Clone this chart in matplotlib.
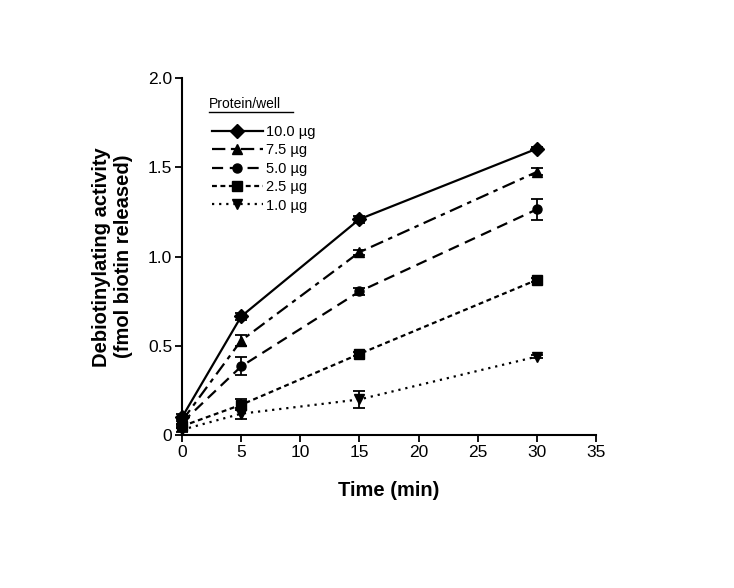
import matplotlib
matplotlib.use("Agg")
import matplotlib.pyplot as plt
from matplotlib.lines import Line2D

plt.rcParams['font.family'] = ['Liberation Sans', 'DejaVu Sans']

time = [0, 5, 15, 30]
labels = ['10.0 µg', '7.5 µg', '5.0 µg', '2.5 µg', '1.0 µg']
v10 = [0.10, 0.665, 1.21, 1.605]
v75 = [0.08, 0.53, 1.025, 1.475]
v50 = [0.07, 0.385, 0.805, 1.265]
v25 = [0.05, 0.17, 0.455, 0.87]
v10b = [0.03, 0.12, 0.20, 0.44]
e10 = [0.02, 0.02, 0.02, 0.01]
e75 = [0.02, 0.03, 0.015, 0.02]
e50 = [0.02, 0.05, 0.02, 0.06]
e25 = [0.01, 0.03, 0.01, 0.01]
e10b = [0.01, 0.03, 0.05, 0.01]

series = [v10, v75, v50, v25, v10b]
errors = [e10, e75, e50, e25, e10b]
markers = ['D', '^', 'o', 's', 'v']
msizes = [7, 7, 6.5, 7, 7.5]
styles = ['-', (0, (6, 2.5, 2, 2.5)), (0, (5, 3)), (0, (2.2, 1.6)), (0, (1, 2.2))]

fig = plt.figure(figsize=(7.34, 5.88), dpi=100)
ax = fig.add_axes([0.248, 0.260, 0.564, 0.607])

handles = []
for y, e, m, ms, ls, lab in zip(series, errors, markers, msizes, styles, labels):
    ax.errorbar(time, y, yerr=e, color='black', marker=m, markersize=ms,
                linestyle=ls, linewidth=1.6, capsize=4, elinewidth=1.3,
                capthick=1.3, clip_on=False, zorder=3)
    handles.append(Line2D([], [], color='black', marker=m, markersize=ms,
                          linestyle=ls, linewidth=1.6))

ax.set_xlim(0, 35)
ax.set_ylim(0, 2.0)
ax.set_xticks(range(0, 36, 5))
ax.set_yticks([0, 0.5, 1.0, 1.5, 2.0])
ax.set_yticklabels(['0', '0.5', '1.0', '1.5', '2.0'])
for s in ['top', 'right']:
    ax.spines[s].set_visible(False)
for s in ['left', 'bottom']:
    ax.spines[s].set_linewidth(1.5)
ax.tick_params(direction='out', length=5, width=1.3, labelsize=12.5, pad=2)

ax.set_xlabel('Time (min)', fontsize=14.5, fontweight='bold', labelpad=15)
ax.set_ylabel('Debiotinylating activity\n(fmol biotin released)', fontsize=14.5,
              fontweight='bold', labelpad=11)

leg = ax.legend(handles, labels, loc='upper left', bbox_to_anchor=(0.058, 0.885),
                frameon=False, fontsize=10.5, handlelength=3.5, handletextpad=0.2,
                labelspacing=0.3, borderaxespad=0)
ax.text(0.065, 0.928, 'Protein/well', transform=ax.transAxes, fontsize=10,
        ha='left', va='center')
ax.plot([0.065, 0.268], [0.905, 0.905], transform=ax.transAxes, color='black',
        linewidth=1, clip_on=False)

fig.savefig('out.png', dpi=100)
